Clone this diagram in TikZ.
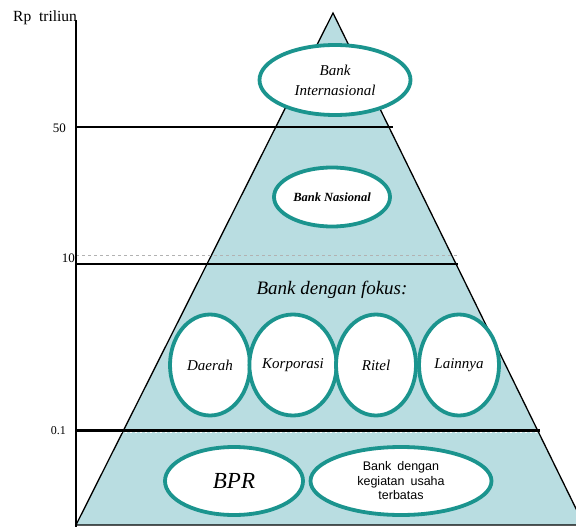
\documentclass[tikz,border=0pt]{standalone}
\usepackage{fontspec}
\setmainfont{Liberation Serif}
\setsansfont{Liberation Sans}
\usetikzlibrary{shapes.geometric}
\definecolor{piramide}{HTML}{B9DDE1}
\definecolor{borde}{HTML}{1B948E}
\newcommand{\tam}[2]{\fontsize{#1}{#2}\selectfont}

\begin{document}
\begin{tikzpicture}[x=1pt,y=-1pt,every node/.style={inner sep=0pt},
  banco/.style={ellipse,draw=borde,line width=3.8pt,fill=white,align=center},
  nivel/.style={line width=2.6pt}]
  \useasboundingbox (0,0) rectangle (576,527);

  % Pirámide
  \coordinate (cima) at (333,13);
  \coordinate (bizq) at (76,525);
  \coordinate (bder) at (584,525);
  \begin{scope}
    \clip (0,0) rectangle (576,527);
    \draw[fill=piramide,line width=1.3pt] (cima) -- (bder) -- (bizq) -- cycle;
  \end{scope}

  % Línea guía gris
  \draw[gray!60,dashed,line width=.8pt] (76,255) -- (458,255);

  % Niveles
  \foreach \y/\xe/\n in {127/393/a, 264/458/b, 430.5/540/c}
    \draw[nivel] (76,\y) coordinate (ini\n) -- (\xe,\y) coordinate (fin\n);
  \draw[white,line width=.9pt,dash pattern=on 2pt off 3pt] (80,432.5) -- (538,432.5);

  % Eje vertical
  \coordinate (ejesup) at (76,20);
  \coordinate (ejeinf) at (76,527);
  \draw[line width=2.6pt] (ejesup) -- (ejeinf);

  % Etiquetas del eje
  \node[anchor=base west,font=\tam{15.5}{17}] (unidad) at (13,22) {Rp\ \ triliun};
  \node[anchor=east,font=\tam{13}{15}] (t50) at (66,128) {50};
  \node[anchor=east,font=\tam{13}{15}] (t10) at (75,258) {10};
  \node[anchor=east,font=\tam{12}{14}] (t01) at (66,431) {0.1};

  % Bancos de arriba
  \node[banco,minimum width=151pt,minimum height=70pt,font=\itshape\tam{15}{20}] (intl) at (335,80) {Bank\\Internasional};
  \node[banco,minimum width=116pt,minimum height=59pt,font=\bfseries\itshape\tam{12.5}{14}] (nas) at (332,197) {Bank Nasional};

  % Bancos con foco
  \node[font=\itshape\tam{19}{21}] (fokus) at (332,290) {Bank dengan fokus:};
  \foreach \x/\nom/\txt/\dy in {210/daerah/Daerah/6, 293/korp/Korporasi/0, 376/ritel/Ritel/0, 459/lain/Lainnya/0}
    \node[banco,minimum width=80pt,minimum height=101pt,font=\itshape\tam{15}{17}] (\nom) at (\x,365) {\raisebox{-\dy pt}{\txt}};

  % Bancos de abajo
  \node[banco,minimum width=138pt,minimum height=68pt,font=\itshape\tam{23}{25}] (bpr) at (234,481) {BPR};
  \node[banco,minimum width=181pt,minimum height=68pt,font=\sffamily\tam{12.5}{14.5}] (terbatas) at (401,481) {Bank\hspace{6pt}dengan\\kegiatan\hspace{6pt}usaha\\terbatas};
\end{tikzpicture}
\end{document}
